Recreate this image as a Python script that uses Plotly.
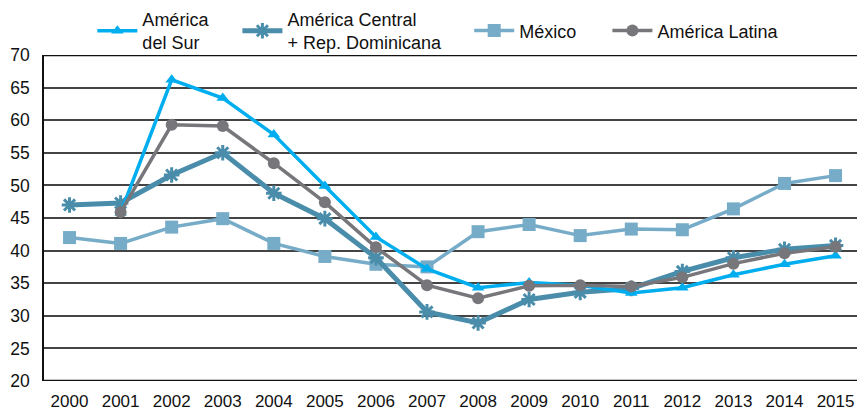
import plotly.graph_objects as go

years = [str(y) for y in range(2000, 2016)]

# Series values (None where no data)
america_sur = [None, 45.8, 66.2, 63.4, 57.8, 49.9, 42.1, 37.2, 34.3, 35.1, 34.7, 33.5, 34.3, 36.3, 37.9, 39.2]
america_central = [47.0, 47.3, 51.6, 55.0, 48.8, 44.9, 38.9, 30.6, 28.9, 32.5, 33.6, 34.2, 36.8, 38.9, 40.2, 40.8]
mexico = [42.0, 41.1, 43.6, 44.9, 41.1, 39.1, 37.9, 37.5, 42.9, 44.0, 42.3, 43.3, 43.2, 46.4, 50.3, 51.5]
america_latina = [None, 45.9, 59.3, 59.1, 53.4, 47.4, 40.5, 34.7, 32.7, 34.6, 34.7, 34.5, 35.9, 38.0, 39.6, 40.6]

y_ticks = list(range(20, 75, 5))

fig = go.Figure()

fig.add_trace(go.Scatter(
    x=years, y=mexico, name="México", mode="lines+markers",
    line=dict(color="#76ACC8", width=3.5),
    marker=dict(symbol="square", size=13, color="#76ACC8"),
    legend="legend3",
))
fig.add_trace(go.Scatter(
    x=years, y=america_central, name="América Central<br>+ Rep. Dominicana", mode="lines+markers",
    line=dict(color="#4A8DAB", width=5),
    marker=dict(symbol="asterisk", size=13, line=dict(color="#4A8DAB", width=3)),
    legend="legend2",
))
fig.add_trace(go.Scatter(
    x=years, y=america_sur, name="América<br>del Sur", mode="lines+markers",
    line=dict(color="#00AEEF", width=3.5),
    marker=dict(symbol="triangle-up", size=11, color="#00AEEF"),
    legend="legend",
))
fig.add_trace(go.Scatter(
    x=years, y=america_latina, name="América Latina", mode="lines+markers",
    line=dict(color="#77777B", width=3.5),
    marker=dict(symbol="circle", size=12, color="#77777B"),
    legend="legend4",
))

legend_common = dict(
    orientation="h", xanchor="left", yanchor="middle", y=1.074,
    font=dict(size=18), bgcolor="rgba(0,0,0,0)", tracegroupgap=0,
    itemwidth=40,
)

fig.update_layout(
    width=857, height=412,
    margin=dict(l=44, r=0, t=55, b=31),
    paper_bgcolor="white", plot_bgcolor="white",
    font=dict(family="Liberation Sans, Arial, sans-serif", size=16, color="#111"),
    showlegend=True,
    legend=dict(x=0.0595, **legend_common),
    legend2=dict(x=0.2379, **legend_common),
    legend3=dict(x=0.523, **legend_common),
    legend4=dict(x=0.693, **legend_common),
    xaxis=dict(
        type="category", range=[-0.5, 15.42], automargin=False,
        showgrid=False, showline=False, zeroline=False,
        ticks="outside", ticklen=5, tickcolor="rgba(0,0,0,0)",
        tickfont=dict(size=17),
    ),
    yaxis=dict(
        range=[20, 70], tickvals=y_ticks, automargin=False,
        showgrid=True, gridcolor="#444", gridwidth=1.5,
        showline=True, linecolor="#111", linewidth=1.5,
        zeroline=False, ticks="outside", ticklen=9, tickcolor="rgba(0,0,0,0)",
        tickfont=dict(size=17.5),
    ),
)

# Heavier frame lines at top and bottom of the value range
fig.add_hline(y=20, line=dict(color="#111", width=2.5))
fig.add_hline(y=70, line=dict(color="#111", width=2.5))

fig.write_html("out.html")
